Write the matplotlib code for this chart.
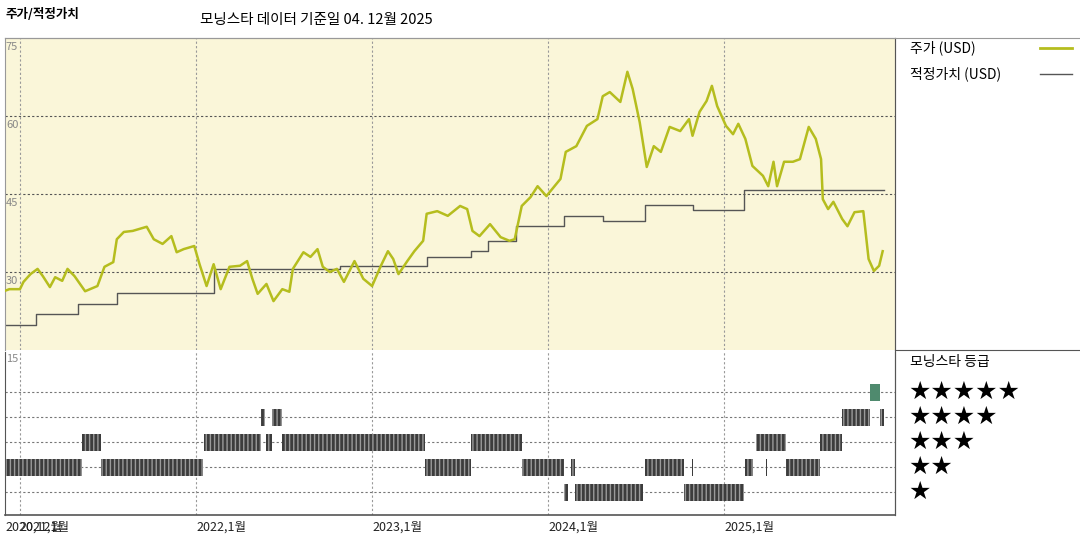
import matplotlib
matplotlib.use("Agg")
import matplotlib.pyplot as plt

plt.rcParams['font.family'] = ['Noto Sans CJK KR', 'DejaVu Sans']

# price (USD), position in decimal years
price_t = [2020.90, 2020.94, 2021.00, 2021.02, 2021.06, 2021.10, 2021.13, 2021.17, 2021.20, 2021.24,
           2021.27, 2021.31, 2021.37, 2021.44, 2021.48, 2021.53, 2021.55, 2021.59, 2021.64, 2021.72,
           2021.76, 2021.81, 2021.86, 2021.89, 2021.93, 2021.97, 2021.99, 2022.02, 2022.06, 2022.10,
           2022.14, 2022.19, 2022.25, 2022.29, 2022.32, 2022.35, 2022.40, 2022.44, 2022.49, 2022.53,
           2022.55, 2022.61, 2022.65, 2022.69, 2022.72, 2022.76, 2022.80, 2022.84, 2022.90, 2022.95,
           2023.00, 2023.05, 2023.09, 2023.12, 2023.15, 2023.20, 2023.24, 2023.29, 2023.31, 2023.37,
           2023.43, 2023.50, 2023.54, 2023.57, 2023.61, 2023.67, 2023.73, 2023.78, 2023.81, 2023.85,
           2023.90, 2023.94, 2023.99, 2024.07, 2024.10, 2024.16, 2024.22, 2024.28, 2024.31, 2024.35,
           2024.41, 2024.45, 2024.48, 2024.52, 2024.56, 2024.60, 2024.64, 2024.69, 2024.75, 2024.80,
           2024.82, 2024.86, 2024.90, 2024.93, 2024.96, 2025.01, 2025.05, 2025.08, 2025.12, 2025.16,
           2025.22, 2025.25, 2025.28, 2025.30, 2025.34, 2025.39, 2025.43, 2025.48, 2025.52, 2025.55,
           2025.56, 2025.59, 2025.62, 2025.67, 2025.70, 2025.74, 2025.79, 2025.82, 2025.85, 2025.88,
           2025.90]
price = [26.2, 26.7, 26.7, 28.1, 29.6, 30.6, 29.2, 27.1, 29.0, 28.3,
         30.6, 29.2, 26.3, 27.3, 31.0, 31.9, 36.3, 37.7, 37.9, 38.7,
         36.3, 35.4, 36.9, 33.8, 34.4, 34.8, 35.0, 31.5, 27.3, 31.5,
         26.7, 31.0, 31.2, 32.1, 28.7, 25.8, 27.7, 24.4, 26.7, 26.2,
         30.6, 33.8, 32.9, 34.4, 31.0, 30.0, 30.6, 28.1, 32.1, 28.7,
         27.3, 31.2, 34.0, 32.5, 29.6, 32.1, 34.0, 36.0, 41.2, 41.7,
         40.8, 42.7, 42.1, 37.9, 36.9, 39.2, 36.7, 36.0, 36.3, 42.7,
         44.4, 46.5, 44.6, 47.9, 53.1, 54.2, 58.1, 59.4, 63.8, 64.6,
         62.7, 68.5, 65.2, 58.8, 50.2, 54.2, 53.1, 57.9, 57.1, 59.4,
         56.2, 60.8, 62.9, 65.8, 61.9, 58.1, 56.5, 58.5, 55.6, 50.4,
         48.5, 46.5, 51.2, 46.5, 51.2, 51.2, 51.7, 57.9, 55.6, 51.7,
         44.0, 42.1, 43.5, 40.2, 38.8, 41.5, 41.7, 32.5, 30.2, 31.2,
         34.0]

# fair value steps (value holds from each date until the next)
fv_t = [2020.90, 2021.09, 2021.33, 2021.55, 2022.10, 2022.82, 2023.31, 2023.56, 2023.66,
        2023.82, 2024.09, 2024.31, 2024.55, 2024.82, 2025.11, 2025.91]
fv = [19.8, 21.9, 23.8, 26.0, 30.6, 31.2, 32.9, 34.0, 36.0,
      38.8, 40.8, 39.8, 42.9, 41.9, 45.8, 45.8]

# star rating periods: (start, end, stars)
ratings = [
    (2020.915, 2021.35, 2), (2021.35, 2021.46, 3), (2021.46, 2022.04, 2),
    (2022.045, 2022.37, 3), (2022.37, 2022.39, 4), (2022.40, 2022.43, 3),
    (2022.43, 2022.49, 4), (2022.49, 2023.30, 3), (2023.30, 2023.56, 2),
    (2023.56, 2023.85, 3), (2023.85, 2024.09, 2), (2024.09, 2024.11, 1),
    (2024.13, 2024.15, 2), (2024.15, 2024.54, 1), (2024.55, 2024.77, 2),
    (2024.77, 2025.11, 1), (2024.818, 2024.823, 2), (2025.12, 2025.165, 2),
    (2025.18, 2025.35, 3), (2025.237, 2025.241, 2), (2025.35, 2025.545, 2),
    (2025.545, 2025.67, 3), (2025.67, 2025.83, 4), (2025.83, 2025.886, 5),
    (2025.886, 2025.91, 4),
]

year_ticks = [2020.915, 2021.0, 2022.0, 2023.0, 2024.0, 2025.0]
year_labels = ['2020,12월', '2021,1월', '2022,1월', '2023,1월', '2024,1월', '2025,1월']
price_ticks = [30, 45, 60, 75]

W, H = 1080, 540
fig = plt.figure(figsize=(10.8, 5.4), dpi=100)
x0, x1 = 2020.915, 2025.97

ax = fig.add_axes([5 / W, 1 - 350 / H, 890 / W, 312 / H])
ax.set_facecolor('#faf6d9')
ax.set_xlim(x0, x1)
ax.set_ylim(15, 75)
for v in price_ticks[:-1]:
    ax.axhline(v, color='#555555', lw=0.8, ls=(0, (2, 2)), zorder=1)
for t in year_ticks[1:]:
    ax.axvline(t, color='#999999', lw=0.8, ls=(0, (2, 2)), zorder=1)
for v in price_ticks:
    ax.text(x0 + 0.005, v - 0.7, str(v), fontsize=8, color='#888888', va='top', ha='left')
ax.step(fv_t, fv, where='post', color='#555555', lw=1.0, zorder=2)
ax.plot(price_t, price, color='#b5bd1e', lw=1.8, zorder=3)
ax.set_xticks([])
ax.set_yticks([])
for s in ax.spines.values():
    s.set_color('#999999')
    s.set_linewidth(0.8)
ax.spines['bottom'].set_visible(False)

ax2 = fig.add_axes([5 / W, 1 - 515 / H, 890 / W, 163 / H])
ax2.set_xlim(x0, x1)
ax2.set_ylim(0.08, 6.6)
for r in range(1, 6):
    ax2.axhline(r, color='#777777', lw=0.8, ls=(0, (2, 2)), zorder=1)
for t in year_ticks[1:]:
    ax2.axvline(t, color='#999999', lw=0.8, ls=(0, (2, 2)), zorder=1)
for a, b, s in ratings:
    fc = '#4f8a6e' if s == 5 else '#3c3c3c'
    ax2.bar(a, 0.68, width=max(b - a, 0.004), bottom=s - 0.34, align='edge',
            color=fc, edgecolor='#9a9a9a', hatch='||||' if s != 5 else None, lw=0, zorder=2)
ax2.text(x0 + 0.005, 6.5, '15', fontsize=8, color='#888888', va='top')
ax2.set_yticks([])
ax2.set_xticks([])
for s in ax2.spines.values():
    s.set_color('#555555')
ax2.spines['top'].set_visible(False)
ax2.spines['bottom'].set_linewidth(1.2)
for t, lab in zip(year_ticks, year_labels):
    ax2.text(t, -0.15, lab, fontsize=9, va='top', ha='left', color='#222222')

# right side frame and legend
fig.add_artist(plt.Line2D([895 / W, 895 / W], [1 - 38 / H, 1 - 515 / H], color='#555555', lw=0.8))
fig.add_artist(plt.Line2D([895 / W, 1.0], [1 - 350 / H, 1 - 350 / H], color='#555555', lw=0.8))
fig.add_artist(plt.Line2D([5 / W, 1.0], [1 - 38 / H, 1 - 38 / H], color='#999999', lw=0.8))
fig.text(910 / W, 1 - 48 / H, '주가 (USD)', fontsize=10, va='center')
fig.add_artist(plt.Line2D([1040 / W, 1072 / W], [1 - 48 / H] * 2, color='#b5bd1e', lw=2.0))
fig.text(910 / W, 1 - 74 / H, '적정가치 (USD)', fontsize=10, va='center')
fig.add_artist(plt.Line2D([1040 / W, 1072 / W], [1 - 74 / H] * 2, color='#555555', lw=1.0))
fig.text(910 / W, 1 - 362 / H, '모닝스타 등급', fontsize=10, va='center')
for r in range(1, 6):
    y = 392 + (5 - r) * 25
    fig.text(908 / W, 1 - y / H, '★' * r, fontsize=18, va='center',
             family=['DejaVu Sans'], color='black')

fig.text(5 / W, 1 - 15 / H, '주가/적정가치', fontsize=9, fontweight='bold', va='center')
fig.text(200 / W, 1 - 20 / H, '모닝스타 데이터 기준일 04. 12월 2025', fontsize=10.5, va='center')

fig.savefig('out.png', dpi=100)
